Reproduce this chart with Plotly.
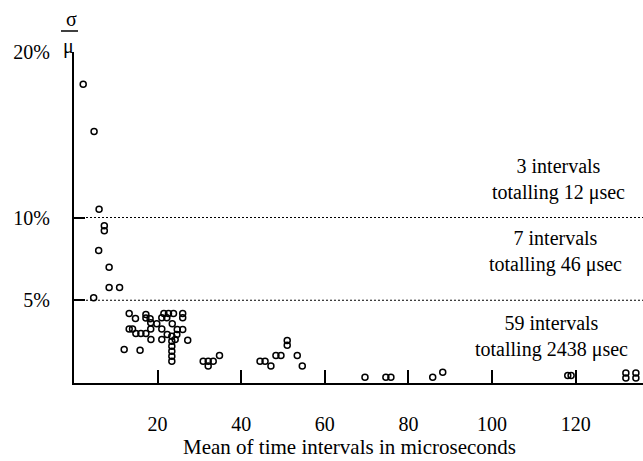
import plotly.graph_objects as go

# ---- data ----
mean_us = [
    2.2, 4.8, 6.0,
    7.25, 7.25, 5.9, 8.4, 8.4, 10.9, 4.7,
    13.2, 14.7, 17.2, 17.2, 18.2, 18.35, 19.8, 13.2, 14.0, 14.8,
    16.0, 17.2, 18.35, 18.4, 21.5, 22.6, 23.8, 21.0, 22.2, 26.0,
    26.0, 21.0, 22.3, 23.5, 24.7, 26.0, 24.6, 24.2, 21.0, 27.2,
    23.4, 23.4, 23.4, 23.4, 23.4, 23.4, 12.0, 15.8,
    30.9, 32.1, 33.3, 32.1, 34.8,
    44.5, 45.7, 47.1, 48.3, 49.5, 51.0, 51.0, 53.4, 54.6,
    69.6, 74.6, 75.8, 85.8, 88.2, 118.1, 118.9, 132.0, 132.0, 134.4, 134.4,
]
cv_pct = [
    18.05, 15.2, 10.5,
    9.5, 9.2, 8.0, 7.0, 5.77, 5.77, 5.15,
    4.2, 3.9, 4.14, 3.92, 3.88, 3.64, 3.58, 3.27, 3.27, 2.99,
    2.99, 2.99, 3.27, 2.63, 4.2, 4.2, 4.2, 3.94, 3.94, 4.2,
    3.94, 3.27, 2.93, 3.58, 3.23, 3.23, 2.93, 2.63, 2.63, 2.59,
    2.83, 2.53, 2.22, 1.92, 1.62, 1.32, 2.02, 1.98,
    1.32, 1.32, 1.32, 1.02, 1.66,
    1.32, 1.32, 1.02, 1.66, 1.66, 2.57, 2.28, 1.66, 1.02,
    0.35, 0.35, 0.35, 0.35, 0.65, 0.45, 0.45, 0.6, 0.3, 0.6, 0.3,
]

x_tick_vals = [20, 40, 60, 80, 100, 120]
y_tick_vals = [5, 10, 20]
y_tick_text = ["5%", "10%", "20%"]
threshold_levels = [5, 10]

band_labels = [
    "3 intervals<br>totalling 12 μsec",
    "7 intervals<br>totalling 46 μsec",
    "59 intervals<br>totalling 2438 μsec",
]
band_x = [115.8, 115.1, 114.2]
band_y = [12.30, 7.95, 2.78]

x_title = "Mean of time intervals in microseconds"

FONT = "Liberation Serif"

fig = go.Figure()
fig.add_trace(go.Scatter(
    x=mean_us, y=cv_pct, mode="markers",
    marker=dict(symbol="circle-open", size=6, color="black", line=dict(width=1.5, color="black")),
    cliponaxis=False, showlegend=False, hoverinfo="skip",
))

for lvl in threshold_levels:
    fig.add_shape(type="line", xref="paper", x0=0, x1=1, yref="y", y0=lvl, y1=lvl,
                  line=dict(color="black", width=1, dash="2px,2px"))

for txt, bx, by in zip(band_labels, band_x, band_y):
    fig.add_annotation(x=bx, y=by, text=txt, showarrow=False, xanchor="center", yanchor="middle",
                       align="center", font=dict(family=FONT, size=20, color="black"))

# axis title
fig.add_annotation(xref="paper", yref="paper", x=0.485, y=0, yshift=-64, text=x_title,
                   showarrow=False, xanchor="center", yanchor="middle",
                   font=dict(family=FONT, size=21, color="black"))

# sigma / mu label
fig.add_annotation(xref="paper", yref="paper", x=0, y=1, xshift=-3, yshift=33, text="σ",
                   showarrow=False, xanchor="center", yanchor="middle",
                   font=dict(family=FONT, size=20, color="black"))
fig.add_shape(type="line", xref="paper", yref="paper", xsizemode="pixel", ysizemode="pixel",
              xanchor=0, yanchor=1, x0=-13, x1=4, y0=21, y1=21,
              line=dict(color="black", width=1.5))
fig.add_annotation(xref="paper", yref="paper", x=0, y=1, xshift=-6, yshift=6, text="μ",
                   showarrow=False, xanchor="center", yanchor="middle",
                   font=dict(family=FONT, size=20, color="black"))

fig.update_layout(
    width=643, height=461,
    margin=dict(l=74, r=0, t=52, b=78),
    paper_bgcolor="white", plot_bgcolor="white",
    font=dict(family=FONT, size=20, color="black"),
    xaxis=dict(range=[0, 136.1], tickvals=x_tick_vals, ticks="inside", ticklen=13, tickwidth=1.5,
               tickcolor="black", showline=True, linecolor="black", linewidth=2, showgrid=False,
               zeroline=False, ticklabelstandoff=22, tickfont=dict(family=FONT, size=20)),
    yaxis=dict(range=[0, 20], tickvals=y_tick_vals, ticktext=y_tick_text, ticks="inside", ticklen=11,
               tickwidth=1.5, tickcolor="black", showline=True, linecolor="black", linewidth=2,
               showgrid=False, zeroline=False, ticklabelstandoff=18,
               tickfont=dict(family=FONT, size=20)),
)

fig.write_html("out.html", config={"displayModeBar": False},
               post_script="document.body.style.margin='0';document.body.style.overflow='hidden';")
